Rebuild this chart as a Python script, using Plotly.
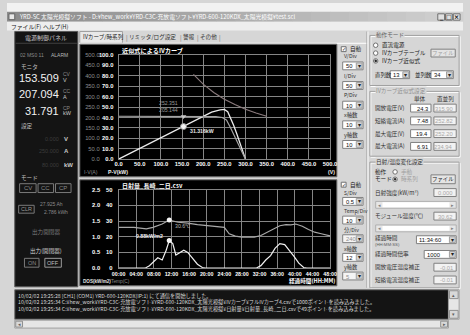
import plotly.graph_objects as go

# ---------------- data ----------------
# Upper chart: IV curve (A), PV curve (kW), power-limit curve (A) vs voltage (V)
iv_v = [0, 50, 100, 150, 200, 230, 245, 255, 265, 280, 290, 300]
iv_i = [206, 206, 205.5, 205, 205, 204, 200, 188, 150, 88, 45, 0]
pv_v = [0, 50, 100, 150, 200, 220, 240, 250, 258, 265, 272, 280, 288, 295, 300]
pv_p = [0, 10.3, 20.6, 30.9, 41.5, 45.2, 47.3, 47.8, 45.5, 39.5, 32.5, 23.6, 14, 5.5, 0]
cp_v = [177, 200, 225, 250, 275, 300, 325, 350]
cp_i = [407, 360, 320, 288, 262, 240, 222, 206]
mk_v = [153.5]
mk_p = [31.3]
mk_i = [205.1]
mk_p_label = "31.316kW"
mk_i_labels = ["252.351", "205.144"]

# Lower chart: module temperature (C) and irradiance (kW/m2) vs elapsed hours
temp_h = [0, 3.5, 6.3, 7.8, 9.9, 11.5, 13.5, 15.7, 17.9, 20, 22.2, 24, 25.1, 26.5, 28,
          30.8, 32.3, 33.7, 35.2, 36.6, 38, 39.1, 40.2, 41.7, 43.1, 44.5, 46, 47.4, 48]
temp_c = [26.0, 26.0, 25.0, 26.0, 28.1, 30.6, 29.2, 28.7, 27.7, 27.1, 26.7, 26.0, 21.9, 20.4, 19.8,
          19.8, 20.8, 22.9, 25.4, 27.0, 27.7, 27.5, 28.1, 26.7, 24.6, 22.9, 21.9, 21.0, 20.5]
irr_h = [0, 6, 7, 8.1, 8.9, 9.9, 10.8, 11.5, 12.3, 13, 13.9, 14.8, 15.7, 16.8, 17.9, 19, 19.7,
         31.2, 32.3, 33.4, 34.5, 35.5, 36.6, 37.7, 38.8, 39.9, 40.9, 42, 42.7, 48]
irr_k = [0, 0, 0.08, 0.21, 0.33, 0.26, 0.57, 0.88, 0.78, 0.42, 0.5, 0.57, 0.5, 0.31, 0.125, 0.02, 0,
         0, 0.08, 0.26, 0.4, 0.63, 0.78, 0.75, 0.57, 0.36, 0.16, 0.02, 0, 0]
mk_h = [11.5]
mk_irr = [0.88]
mk_temp = [30.6]
time_ticks = [0, 4, 8, 12, 16, 20, 24, 28, 32, 36, 40, 44, 48]
time_labels = ["00:00", "04:00", "08:00", "12:00", "16:00", "20:00", "24:00",
               "28:00", "32:00", "36:00", "40:00", "44:00", "48:00"]

# ---------------- helpers ----------------
W, H = 470, 335
UI = "Noto Sans CJK JP"
NUM = "Liberation Sans"
BG = "#d6d6d6"


def X(x):
    return x / W


def Y(y):
    return 1 - y / H


shapes = []
ann = []


def rect(x0, y0, x1, y1, fill=None, line=None, lw=1):
    shapes.append(dict(type="rect", xref="paper", yref="paper",
                       x0=X(x0), x1=X(x1), y0=Y(y1), y1=Y(y0),
                       fillcolor=fill or "rgba(0,0,0,0)",
                       line=dict(color=line or "rgba(0,0,0,0)", width=lw if line else 0),
                       layer="below"))


def seg(x0, y0, x1, y1, color, lw=1):
    shapes.append(dict(type="line", xref="paper", yref="paper",
                       x0=X(x0), x1=X(x1), y0=Y(y0), y1=Y(y1),
                       line=dict(color=color, width=lw), layer="below"))


def circ(cx, cy, r, fill, line="#707070"):
    shapes.append(dict(type="circle", xref="paper", yref="paper",
                       x0=X(cx - r), x1=X(cx + r), y0=Y(cy + r), y1=Y(cy - r),
                       fillcolor=fill, line=dict(color=line, width=1), layer="below"))


def txt(x, y, s, size=6.5, color="#202020", anchor="left", family=UI, bold=False, bg=None):
    d = dict(xref="paper", yref="paper", x=X(x), y=Y(y), text=s, showarrow=False,
             xanchor=anchor, yanchor="middle", borderpad=0,
             font=dict(size=size, color=color, family=family,
                       weight="bold" if bold else "normal"))
    if bg:
        d["bgcolor"] = bg
    ann.append(d)


def dropdown(x0, y0, x1, y1, s, disabled=False):
    rect(x0, y0, x1, y1, "#f4f4f4" if disabled else "#ffffff", "#808080")
    rect(x1 - 7, y0 + 1, x1 - 1, y1 - 1, "#d4d4d4", "#a0a0a0")
    txt(x1 - 4, (y0 + y1) / 2, "▾", 6, "#202020", "center", NUM)
    txt(x0 + 2, (y0 + y1) / 2 + 0.5, s, 5.8, "#909090" if disabled else "#101010", "left", NUM)


def box(x0, y0, x1, y1, s, disabled=False):
    rect(x0, y0, x1, y1, "#f2f2f2" if disabled else "#ffffff", "#808080")
    txt(x1 - 2, (y0 + y1) / 2 + 0.5, s, 5.8, "#a8a8a8" if disabled else "#101010", "right", NUM)


def button(x0, y0, x1, y1, s, disabled=False):
    rect(x0, y0, x1, y1, "#e4e4e4", "#808080")
    txt((x0 + x1) / 2, (y0 + y1) / 2, s, 5.4, "#a0a0a0" if disabled else "#202020", "center")


def group(x0, y0, x1, y1, label, lcolor="#303030"):
    rect(x0 + 1, y0 + 1, x1 + 1, y1 + 1, None, "#ffffff")
    rect(x0, y0, x1, y1, None, "#a0a0a0")
    txt(x0 + 5, y0, label, 5.6, lcolor, "left", bg=BG)


def radio(x, y, s, on=False, color="#202020"):
    circ(x, y, 2.3, "#ffffff", "#707070")
    if on:
        circ(x, y, 0.9, "#202020", "#202020")
    txt(x + 5, y, s, 5.6, color)


def check(x, y, s):
    rect(x - 2.5, y - 2.5, x + 2.5, y + 2.5, "#ffffff", "#707070")
    txt(x, y, "✓", 5, "#202020", "center", "DejaVu Sans")
    txt(x + 5, y, s, 5.6, "#202020")


# ---------------- window chrome ----------------
rect(0, 0, 470, 9, "#f2f2f2")
n = 24
for k in range(n):
    c = int(0x8c + (0xd0 - 0x8c) * k / (n - 1))
    rect(470 * k / n, 9, 470 * (k + 1) / n + 0.5, 19, "#%02x%02x%02x" % (c, c, c))
rect(2, 11, 8, 17, "#e8e8e8", "#606060")
txt(11, 14, "YRD-SC 太陽光模擬ソフト - D:¥hew_work¥YRD-C3C-充放電ソフト¥YRD-600-120KDX_太陽光模擬¥test.scl",
    5.8, "#ffffff")
for i, g in enumerate(["_", "□", "×"]):
    x0 = 444 + i * 8
    rect(x0, 11, x0 + 7, 17.5, "#e0e0e0", "#707070")
    txt(x0 + 3.5, 14.2, g, 6, "#000000", "center", "DejaVu Sans", True)
rect(0, 19, 470, 28, "#eeeeee")
txt(3, 23.5, "ファイル(F)", 5.8, "#202020")
txt(36, 23.5, "ヘルプ(H)", 5.8, "#202020")

# tabs
rect(75, 29, 119, 41, "#e8e8e8", "#a0a0a0")
txt(77, 35, "IVカーブ/時系列", 5.6, "#202020")
txt(122, 35, "|", 6, "#707070")
txt(125, 35, "リミッタ/ログ設定", 5.6, "#303030")
txt(177, 35, "|", 6, "#707070")
txt(180, 35, "警報", 5.6, "#303030")
txt(195, 35, "|", 6, "#707070")
txt(198, 35, "その他", 5.6, "#303030")
txt(217, 35, "|", 6, "#707070")
seg(74, 41, 372, 41, "#ffffff")

# ---------------- left control panel ----------------
rect(8, 29, 73, 289, "#141414", "#5a5a5a")
txt(40.5, 35, "電源制御パネル", 6, "#c8c8c8", "center")
seg(9, 41, 72, 41, "#404040")
txt(12, 53, "02 MS0 11", 5, "#8a8a8a", "left", NUM)
txt(44, 53, "ALARM", 5, "#b8b8b8", "left", NUM)
txt(13, 65, "モニタ", 5.6, "#c0c0c0")
for yy, val, u1, u2 in [(76, "153.509", "CV", "V"), (93, "207.094", "CC", "A"), (110, "31.791", "CP", "kW")]:
    txt(55, yy, val, 11, "#f2f2f2", "right", NUM)
    txt(57, yy - 3.5, u1, 5, "#8a8a8a", "left", NUM)
    txt(57, yy + 2.5, u2, 5.5, "#c8c8c8", "left", NUM)
txt(13, 125, "設定", 5.6, "#c0c0c0")
for yy, val, u in [(138, "0.000", "V"), (151, "250.000", "A"), (165, "80.000", "kW")]:
    txt(55, yy, val, 5.5, "#3c3c3c", "right", NUM)
    txt(58, yy, u, 6, "#c8c8c8", "left", NUM, True)
txt(13, 178, "モード", 5.6, "#c0c0c0")
for x0, x1, s in [(13, 30, "CV"), (32, 48, "CC"), (50, 66, "CP")]:
    rect(x0, 184, x1, 193, None, "#7a7a7a")
    txt((x0 + x1) / 2, 188.5, s, 6, "#8a8a8a", "center", NUM)
rect(12, 206, 28, 214, None, "#7a7a7a")
txt(20, 210, "CLR", 5.5, "#9a9a9a", "center", NUM)
txt(33, 205, "27.925 Ah", 5, "#8a8a8a", "left", NUM)
txt(37, 213, "2.786 kWh", 5, "#8a8a8a", "left", NUM)
txt(40.5, 233, "出力開閉器", 5.6, "#7a7a7a", "center")
txt(40.5, 253, "出力(開閉器)", 5.6, "#d0d0d0", "center")
rect(18, 260, 33, 269, None, "#7a7a7a")
txt(25.5, 264.5, "ON", 5.5, "#8a8a8a", "center", NUM)
rect(39, 260, 56, 269, None, "#9a9a9a")
txt(47.5, 264.5, "OFF", 5.5, "#c0c0c0", "center", NUM)

# ---------------- chart panels ----------------
rect(75, 42, 340, 177, "#000000", "#707070")
rect(75, 180, 340, 288, "#000000", "#707070")
txt(117, 48, "近似式によるIVカーブ", 6.2, "#ffffff", "left", UI, True)
txt(78, 172.5, "I-V(A)", 5.2, "#8a8a8a", "left", NUM)
txt(103, 172.5, "P-V(kW)", 5.2, "#f0f0f0", "left", NUM, True)
txt(334, 172.5, "(V)", 5.2, "#f0f0f0", "center", NUM, True)
txt(117, 185.5, "日射量_長崎_二日.csv", 6, "#ffffff", "left", UI, True)
txt(77, 283.5, "DOS(kW/m2)", 4.6, "#e0e0e0", "left", NUM, True)
txt(106, 283.5, "Temp(C)", 4.8, "#8a8a8a", "left", NUM)
txt(339, 283.5, "経過時間(HH:MM)", 5.6, "#ffffff", "right", UI, True)

# ---------------- chart side controls ----------------
seg(371, 29, 371, 290, "#a0a0a0")
seg(372, 29, 372, 290, "#ffffff")
check(347, 47, "自動")
for yy, lab, val, dis in [(54, "V/Div", "50", False), (74, "I/Div", "50", False), (94, "P/Div", "10", False),
                          (114, "x軸数", "10", False), (134, "y軸数", "10", False)]:
    txt(346, yy, lab, 5.4, "#303030", "left", UI)
    dropdown(346, yy + 6, 367, yy + 14, val, dis)
check(347, 185, "自動")
for yy, lab, val, dis in [(193, "S/Div", "0.5", False), (212, "Temp/Div", "10", False), (231, "分/Div", "240", True),
                          (250, "x軸数", "12", False), (269, "y軸数", "5", True)]:
    txt(346, yy, lab, 5.2, "#303030", "left", UI)
    dropdown(346, yy + 5, 367, yy + 13, val, dis)

# ---------------- right settings panel ----------------
group(374, 33, 466, 84, "動作モード", "#606060")
radio(380, 43, "直流電源")
radio(380, 51, "IVカーブテーブル")
button(437, 47, 462, 55, "ファイル", True)
radio(380, 59, "IVカーブ近似式", True)
txt(378, 73, "直列数", 5.4)
dropdown(395, 69, 415, 77, "13")
txt(419, 73, "並列数", 5.4)
dropdown(437, 69, 460, 77, "34")

group(374, 90, 466, 156, "IVカーブ近似式設定", "#909090")
txt(426, 98, "単体", 5.6, "#303030", "center")
txt(451.5, 98, "直並列", 5.6, "#303030", "center")
for yy, lab, v1, v2 in [(107, "開放電圧(V)", "24.3", "315.90"), (120, "短絡電流(A)", "7.48", "252.82"),
                        (133, "最大電圧(V)", "19.4", "252.20"), (146, "最大電流(A)", "6.91", "234.94")]:
    txt(378, yy, lab, 5.6, "#303030")
    box(416, yy - 4, 437, yy + 4, v1)
    box(440, yy - 4, 463, yy + 4, v2, True)

group(374, 162, 466, 290, "日射/温度変化設定", "#303030")
txt(378, 172, "動作", 5.6)
radio(400, 172, "手動", False, "#a0a0a0")
txt(378, 179.5, "モード", 5.6)
radio(400, 179.5, "時系列", True, "#a0a0a0")
button(437, 175, 462, 184, "ファイル")
txt(378, 193, "日射強度(kW/m²)", 5.6, "#303030")
box(440, 189, 463, 197, "0.000", True)
for yy in (205.5, 229.5):
    rect(380, yy - 3.5, 463, yy + 3.5, "#e6e6e6", "#b0b0b0")
    rect(387, yy - 2.5, 456, yy + 2.5, "#ffffff")
    txt(383.5, yy, "◂", 5, "#808080", "center", "DejaVu Sans")
    txt(459.5, yy, "▸", 5, "#808080", "center", "DejaVu Sans")
txt(378, 217, "モジュール温度(℃)", 5.6, "#303030")
box(440, 213, 463, 221, "30.62", True)
txt(378, 239, "経過時間", 5.6, "#303030")
txt(378, 245.5, "(HH:MM:SS)", 4.3, "#606060", "left", NUM)
dropdown(422, 237, 463, 245, "11:34:60")
txt(378, 256, "経過時間倍率", 5.6, "#303030")
dropdown(430, 252, 463, 260, "1000")
txt(378, 269, "開放電圧温度補正", 5.6, "#303030")
box(440, 265, 463, 273, "-0.01", True)
txt(378, 282, "短絡電流温度補正", 5.6, "#303030")
box(440, 278, 463, 286, "-0.01", True)

# ---------------- log box ----------------
rect(8, 292, 455, 322, "#141414", "#707070")
logs = ["10/02/02 19:25:28 [CH1] (COM1) YRD-600-120KDX(IP:1) にて通信を開始しました。",
        "10/02/02 19:25:34 C:¥hew_work¥YRD-C3C-充放電ソフト¥YRD-600-120KDX_太陽光模擬¥IVカーブ¥フルIVカーブ4.csvで1000ポイントを読み込みました。",
        "10/02/02 19:25:34 C:¥hew_work¥YRD-C3C-充放電ソフト¥YRD-600-120KDX_太陽光模擬¥日射量¥日射量_長崎_二日.csvで49ポイントを読み込みました。"]
for i, s in enumerate(logs):
    txt(10, 298 + i * 6.6, s, 5.2, "#d8d8d8")
rect(455, 292, 466, 322, "#e6e6e6", "#a0a0a0")
rect(456, 293, 465, 301, "#d8d8d8", "#909090")
rect(456, 313, 465, 321, "#d8d8d8", "#909090")
txt(460.5, 297, "▴", 5, "#606060", "center", "DejaVu Sans")
txt(460.5, 317, "▾", 5, "#606060", "center", "DejaVu Sans")
rect(8, 323, 455, 331, "#e6e6e6", "#a0a0a0")
rect(9, 324, 16, 330, "#d8d8d8", "#909090")
rect(447, 324, 454, 330, "#d8d8d8", "#909090")
txt(12.5, 327, "◂", 5, "#606060", "center", "DejaVu Sans")
txt(450.5, 327, "▸", 5, "#606060", "center", "DejaVu Sans")

# ---------------- traces ----------------
fig = go.Figure()
fig.add_trace(go.Scatter(x=cp_v, y=cp_i, xaxis="x", yaxis="y2", mode="lines",
                         line=dict(color="#8c7c7e", width=1.1), hoverinfo="skip"))
fig.add_trace(go.Scatter(x=iv_v, y=iv_i, xaxis="x", yaxis="y2", mode="lines",
                         line=dict(color="#a4a4a4", width=1.2), hoverinfo="skip"))
fig.add_trace(go.Scatter(x=mk_v, y=mk_i, xaxis="x", yaxis="y2", mode="markers",
                         marker=dict(symbol="triangle-down", size=5, color="#c8c8c8"), hoverinfo="skip"))
fig.add_trace(go.Scatter(x=pv_v, y=pv_p, xaxis="x", yaxis="y", mode="lines",
                         line=dict(color="#ececec", width=1.3), hoverinfo="skip"))
fig.add_trace(go.Scatter(x=mk_v, y=mk_p, xaxis="x", yaxis="y", mode="markers",
                         marker=dict(symbol="circle", size=6, color="#f4f4f4",
                                     line=dict(color="#909090", width=1)), hoverinfo="skip"))
fig.add_trace(go.Scatter(x=temp_h, y=temp_c, xaxis="x2", yaxis="y3", mode="lines",
                         line=dict(color="#a8a8a8", width=1.2), hoverinfo="skip"))
fig.add_trace(go.Scatter(x=mk_h, y=mk_temp, xaxis="x2", yaxis="y3", mode="markers",
                         marker=dict(symbol="circle", size=5, color="#f4f4f4"), hoverinfo="skip"))
fig.add_trace(go.Scatter(x=irr_h, y=irr_k, xaxis="x2", yaxis="y4", mode="lines",
                         line=dict(color="#f0f0f0", width=1.2), hoverinfo="skip"))
fig.add_trace(go.Scatter(x=mk_h, y=mk_irr, xaxis="x2", yaxis="y4", mode="markers",
                         marker=dict(symbol="circle", size=5, color="#f4f4f4"), hoverinfo="skip"))

# data-anchored labels
ann.append(dict(xref="x", yref="y", x=mk_v[0], y=mk_p[0], text=mk_p_label, showarrow=False,
                xanchor="left", yanchor="middle", xshift=4, yshift=-4,
                font=dict(size=5.2, color="#e8e8e8", family=NUM, weight="bold")))
for k, s in enumerate(mk_i_labels):
    ann.append(dict(xref="x", yref="y2", x=mk_v[0], y=mk_i[0], text=s, showarrow=False,
                    xanchor="right", yanchor="middle", xshift=-4, yshift=13 - 7 * k,
                    font=dict(size=5.2, color="#9a9a9a", family=NUM)))
ann.append(dict(xref="x2", yref="y4", x=mk_h[0], y=mk_irr[0], text="%.2fkW/m2" % mk_irr[0], showarrow=False,
                xanchor="right", yanchor="middle", xshift=-4, yshift=5,
                font=dict(size=5.2, color="#f0f0f0", family=NUM, weight="bold")))
ann.append(dict(xref="x2", yref="y3", x=mk_h[0], y=mk_temp[0], text="%.1f℃" % mk_temp[0], showarrow=False,
                xanchor="left", yanchor="middle", xshift=4, yshift=-6,
                font=dict(size=5.2, color="#b8b8b8", family=NUM)))

GRID = "#858585"
tf_w = dict(size=5.8, color="#ffffff", family=NUM, weight="bold")
tf_g = dict(size=5.8, color="#8c8c8c", family=NUM)
common = dict(showgrid=True, gridcolor=GRID, gridwidth=1, zeroline=False, ticks="",
              showline=True, mirror=True, linecolor=GRID, fixedrange=True)

fig.update_layout(
    width=W, height=H, margin=dict(l=0, r=0, t=0, b=0),
    paper_bgcolor=BG, plot_bgcolor="#000000", showlegend=False, hovermode=False,
    shapes=shapes, annotations=ann,
    xaxis=dict(domain=[X(115), X(333)], range=[0, 500], tick0=0, dtick=50, tickformat=".1f",
               tickfont=tf_w, anchor="y", ticklabelstandoff=-1, **common),
    yaxis=dict(domain=[Y(159), Y(53)], range=[0, 100], tick0=0, dtick=10, tickformat=".1f",
               tickfont=tf_w, anchor="x", ticklabelstandoff=3, **common),
    yaxis2=dict(overlaying="y", anchor="free", position=X(95.5), side="left", range=[0, 500],
                tick0=0, dtick=50, tickformat=".1f", tickfont=tf_g, showgrid=False,
                zeroline=False, ticks="", showline=False, fixedrange=True),
    xaxis2=dict(domain=[X(115), X(333)], range=[0, 48], tickvals=time_ticks, ticktext=time_labels,
                tickfont=dict(size=5.3, color="#ffffff", family=NUM, weight="bold"),
                anchor="y3", ticklabelstandoff=0, **common),
    yaxis3=dict(domain=[Y(270), Y(190)], range=[0, 50], tick0=0, dtick=10, tickformat="d",
                tickfont=tf_w, anchor="x2", ticklabelstandoff=4, **common),
    yaxis4=dict(overlaying="y3", anchor="free", position=X(96), side="left", range=[0, 2.5],
                tick0=0, dtick=0.5, tickformat=".1f", tickfont=tf_w, showgrid=False,
                zeroline=False, ticks="", showline=False, fixedrange=True),
)

fig.write_html("out.html", config={"displayModeBar": False, "staticPlot": True},
               post_script="document.body.style.margin='0px';"
                           "document.body.style.background='#d6d6d6';")
